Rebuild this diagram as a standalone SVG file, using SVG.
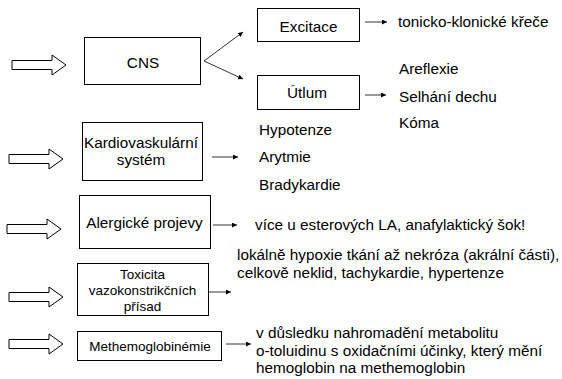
<svg xmlns="http://www.w3.org/2000/svg" width="562" height="379" viewBox="0 0 562 379">
<style>
.box{fill:#fff;stroke:#000;stroke-width:1}
.t{font-family:"Liberation Sans",Arial,sans-serif;font-size:15.3px;fill:#000}
.s{font-size:13.5px}
.c{text-anchor:middle}
.ln{stroke:#000;stroke-width:0.8;fill:none;marker-end:url(#ah)}
.ha{fill:#fff;stroke:#000;stroke-width:1}
</style>
<defs>
<marker id="ah" markerUnits="userSpaceOnUse" markerWidth="6" markerHeight="5" refX="5" refY="2.5" orient="auto">
<path d="M0,0 L5,2.5 L0,5 Z" fill="#000"/>
</marker>
<path id="hollow" d="M-54,-4.5 L-14,-4.5 L-14,-10 L0,0 L-14,10 L-14,4.5 L-54,4.5 Z"/>
</defs>

<g id="inputs">
<use href="#hollow" class="ha" transform="translate(66,65)"/>
<use href="#hollow" class="ha" transform="translate(63,159)"/>
<use href="#hollow" class="ha" transform="translate(61,229)"/>
<use href="#hollow" class="ha" transform="translate(63,297)"/>
<use href="#hollow" class="ha" transform="translate(63,344)"/>
</g>

<g id="connectors">
<path class="ln" d="M204,61 L243,32"/>
<path class="ln" d="M204,61 L243,79"/>
<path class="ln" d="M365,22 L387,22"/>
<path class="ln" d="M365,95 L386,95"/>
<path class="ln" d="M212,157 L238,157"/>
<path class="ln" d="M213,225 L237,225"/>
<path class="ln" d="M209,292 L231,292"/>
<path class="ln" d="M226,344 L251,344"/>
</g>

<g id="cns">
<rect class="box" x="84.5" y="37.5" width="116" height="47"/>
<text class="t c" x="143" y="67.5">CNS</text>
</g>
<g id="excitace">
<rect class="box" x="257.5" y="8.5" width="102" height="33"/>
<text class="t c" x="308.5" y="31.5">Excitace</text>
</g>
<g id="utlum">
<rect class="box" x="257.5" y="75.5" width="102" height="34"/>
<text class="t c" x="307" y="98">Útlum</text>
</g>
<g id="kardio">
<rect class="box" x="82.5" y="122.5" width="120" height="58"/>
<text class="t c" x="141" y="148">Kardiovaskulární</text>
<text class="t c" x="141" y="165">systém</text>
</g>
<g id="alergicke">
<rect class="box" x="79.5" y="195.5" width="131" height="53"/>
<text class="t c" x="144.5" y="228">Alergické projevy</text>
</g>
<g id="toxicita">
<rect class="box" x="77.5" y="263.5" width="131" height="52"/>
<text class="t s c" x="142.5" y="279">Toxicita</text>
<text class="t s c" x="142.5" y="295">vazokonstrikčních</text>
<text class="t s c" x="142.5" y="311">přísad</text>
</g>
<g id="methem">
<rect class="box" x="77.5" y="331.5" width="144" height="29"/>
<text class="t s c" x="150" y="351">Methemoglobinémie</text>
</g>

<g id="effects">
<text class="t" x="398" y="26.5">tonicko-klonické křeče</text>
<text class="t" x="399" y="74">Areflexie</text>
<text class="t" x="399" y="101.5">Selhání dechu</text>
<text class="t" x="399" y="128">Kóma</text>
<text class="t" x="259" y="135">Hypotenze</text>
<text class="t" x="259" y="162">Arytmie</text>
<text class="t" x="259" y="190">Bradykardie</text>
<text class="t" x="255" y="230">více u esterových LA, anafylaktický šok!</text>
<text class="t" x="237" y="260">lokálně hypoxie tkání až nekróza (akrální části),</text>
<text class="t" x="237" y="277.5">celkově neklid, tachykardie, hypertenze</text>
<text class="t" x="256" y="338">v důsledku nahromadění metabolitu</text>
<text class="t" x="256" y="356">o-toluidinu s oxidačními účinky, který mění</text>
<text class="t" x="256" y="373">hemoglobin na methemoglobin</text>
</g>
</svg>
